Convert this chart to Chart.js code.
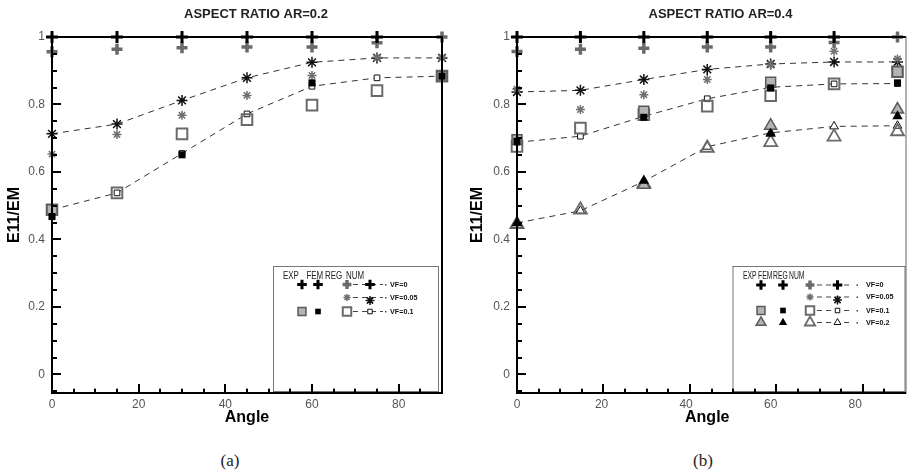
<!DOCTYPE html>
<html>
<head>
<meta charset="utf-8">
<title>E11/EM vs Angle</title>
<script src="https://cdn.jsdelivr.net/npm/chart.js@4.4.1/dist/chart.umd.min.js"></script>
<style>
  html, body { margin: 0; padding: 0; background: #fff; }
  .panel { position: absolute; top: 0; height: 432px; }
  #panelA { left: 0; width: 460px; }
  #panelB { left: 460px; width: 447px; }
  .axisbar { position: absolute; background: #000; pointer-events: none; }
  .caption { position: absolute; top: 452px; font: 17px "Liberation Serif", serif; color: #222; transform: translateX(-50%); line-height: 1; }
</style>
</head>
<body>
<div class="panel" id="panelA"><canvas id="chartA"></canvas></div>
<div class="panel" id="panelB"><canvas id="chartB"></canvas></div>
<div class="caption" style="left:230px">(a)</div>
<div class="caption" style="left:703px">(b)</div>
<script>
// fibre orientation angles and axis ticks
const angles = [0, 15, 30, 45, 60, 75, 90];
const xTicks = [0, 20, 40, 60, 80];
const yTicks = [0, 0.2, 0.4, 0.6, 0.8, 1];
const X_MIN = 0, X_MAX = 90, Y_MIN = -0.055, Y_MAX = 1;

// AR = 0.2
const a_vf0_exp = [1, 1, 1, 1, 1, 1, null];
const a_vf0_reg = [0.956, 0.964, 0.968, 0.970, 0.970, 0.983, 1.0];
const a_vf05_reg = [0.653, 0.711, 0.768, 0.827, 0.886, 0.940, 0.940];
const a_vf05_num = [0.713, 0.742, 0.812, 0.879, 0.925, 0.938, 0.938];
const a_vf1_exp = [0.488, null, null, null, null, null, 0.884];
const a_vf1_fem = [0.468, null, 0.651, null, 0.864, null, 0.884];
const a_vf1_reg = [0.488, 0.538, 0.713, 0.755, 0.798, 0.841, 0.884];
const a_vf1_num = [0.488, 0.538, 0.655, 0.772, 0.854, 0.879, 0.884];

// AR = 0.4
const b_vf0_exp = [1, 1, 1, 1, 1, 1, null];
const b_vf0_reg = [0.957, 0.964, 0.967, 0.970, 0.970, 0.984, 1.0];
const b_vf05_reg = [0.845, 0.785, 0.829, 0.874, 0.918, 0.958, 0.935];
const b_vf05_num = [0.837, 0.842, 0.874, 0.904, 0.920, 0.926, 0.926];
const b_vf1_exp = [0.696, null, 0.780, null, 0.866, null, 0.897];
const b_vf1_fem = [0.691, null, 0.762, null, 0.849, null, 0.864];
const b_vf1_reg = [0.676, 0.730, 0.770, 0.795, 0.826, 0.861, 0.897];
const b_vf1_num = [0.688, 0.706, 0.765, 0.817, 0.851, 0.861, 0.862];
const b_vf2_exp = [0.445, null, 0.562, null, 0.737, null, 0.785];
const b_vf2_fem = [0.449, null, 0.574, null, 0.713, null, 0.765];
const b_vf2_reg = [0.445, 0.488, 0.565, 0.671, 0.688, 0.704, 0.720];
const b_vf2_num = [0.449, 0.485, 0.572, 0.675, 0.716, 0.735, 0.737];

const NONE = 'rgba(0,0,0,0)';
const marks = {
  plusBlack: { pointStyle: 'cross', pointRadius: 6, pointBorderWidth: 3, pointBorderColor: '#000', pointBackgroundColor: NONE },
  plusGray:  { pointStyle: 'cross', pointRadius: 5.5, pointBorderWidth: 3.5, pointBorderColor: '#6a6a6a', pointBackgroundColor: NONE },
  starNum:   { pointStyle: 'star', pointRadius: 5.5, pointBorderWidth: 1.5, pointBorderColor: '#111', pointBackgroundColor: NONE },
  starReg:   { pointStyle: 'star', pointRadius: 4.5, pointBorderWidth: 1.5, pointBorderColor: '#707070', pointBackgroundColor: NONE },
  sqReg: { pointStyle: 'rect', pointRadius: 7.5, pointBorderWidth: 2, pointBorderColor: '#6a6a6a', pointBackgroundColor: NONE },
  sqExp: { pointStyle: 'rect', pointRadius: 7, pointBorderWidth: 1.5, pointBorderColor: '#5a5a5a', pointBackgroundColor: '#b4b4b4' },
  sqFem: { pointStyle: 'rect', pointRadius: 5, pointBorderWidth: 0, pointBorderColor: '#000', pointBackgroundColor: '#000' },
  sqNum: { pointStyle: 'rect', pointRadius: 4, pointBorderWidth: 1, pointBorderColor: '#111', pointBackgroundColor: '#fff' },
  triReg: { pointStyle: 'triangle', pointRadius: 7.5, pointBorderWidth: 1.8, pointBorderColor: '#6a6a6a', pointBackgroundColor: NONE },
  triExp: { pointStyle: 'triangle', pointRadius: 7, pointBorderWidth: 1.5, pointBorderColor: '#5a5a5a', pointBackgroundColor: '#b4b4b4' },
  triFem: { pointStyle: 'triangle', pointRadius: 6, pointBorderWidth: 0, pointBorderColor: '#000', pointBackgroundColor: '#000' },
  triNum: { pointStyle: 'triangle', pointRadius: 5, pointBorderWidth: 1, pointBorderColor: '#111', pointBackgroundColor: '#fff' }
};

function pts(vals) {
  return angles.map((a, i) => ({ x: a, y: vals[i] }));
}

function markSet(vals, mark, order) {
  return Object.assign({ data: pts(vals), showLine: false, clip: false, order: order, borderColor: NONE, backgroundColor: NONE }, mark);
}

// numerical curves: dashed line through small symbols
function numSet(vals, mark) {
  return Object.assign({
    data: pts(vals), showLine: true, clip: false, borderColor: '#333', backgroundColor: NONE,
    borderWidth: 1, borderDash: [6, 5], order: 5
  }, mark);
}

function drawMark(ctx, mark, x, y, k) {
  ctx.save();
  ctx.strokeStyle = mark.pointBorderColor;
  ctx.fillStyle = mark.pointBackgroundColor;
  ctx.lineWidth = Math.max(mark.pointBorderWidth, 0.01);
  Chart.helpers.drawPoint(ctx, {
    pointStyle: mark.pointStyle, radius: mark.pointRadius * k,
    borderWidth: mark.pointBorderWidth, rotation: 0
  }, x, y);
  ctx.restore();
}

function squeezedText(ctx, text, x, y, font, sx) {
  ctx.save();
  ctx.font = font;
  ctx.translate(x, y);
  ctx.scale(sx, 1);
  ctx.fillText(text, 0, 0);
  ctx.restore();
}

function drawLegendBox(ctx, lg) {
  const [l, t, r, b] = lg.box;
  ctx.save();
  ctx.fillStyle = '#fff';
  ctx.fillRect(l, t, r - l, b - t);
  ctx.fillStyle = '#777';
  ctx.fillRect(l - 0.5, t - 0.5, r - l + 1, 1);
  ctx.fillRect(l - 0.5, t - 0.5, 1, b - t + 1);
  ctx.fillRect(r - 0.5, t - 0.5, 1, b - t + 1);
  ctx.fillRect(l - 0.5, b - 0.5, r - l + 1, 1);
  ctx.restore();
}

function drawLegendRows(ctx, lg) {
  ctx.save();
  ctx.fillStyle = '#222';
  ctx.textBaseline = 'middle';
  ctx.textAlign = 'left';
  ['EXP', 'FEM', 'REG', 'NUM'].forEach((w, i) => {
    squeezedText(ctx, w, lg.header[i], lg.headerY, '11px "Liberation Sans", Arial, sans-serif', lg.squeeze);
  });

  lg.rows.forEach(row => {
    const y = row.y;
    ctx.save();
    ctx.strokeStyle = '#444';
    ctx.lineWidth = 1;
    ctx.setLineDash([5, 4]);
    ctx.beginPath();
    ctx.moveTo(lg.line[0], y);
    ctx.lineTo(lg.line[1], y);
    ctx.stroke();
    ctx.restore();
    ctx.fillStyle = '#444';
    ctx.fillRect(lg.dot, y - 0.5, 1.5, 1.5);
    ['exp', 'fem', 'reg', 'num'].forEach(c => {
      if (row[c]) drawMark(ctx, marks[row[c]], lg.cols[c], y + (row[c] === 'starNum' ? 3 : 0), 0.8);
    });
    ctx.fillStyle = '#111';
    squeezedText(ctx, row.label, lg.labelX, y, 'bold 8px "Liberation Sans", Arial, sans-serif', 0.9);
  });
  ctx.restore();
}

// plot box as set by the layout: y-axis width, x-axis height and paddings
function plotBox(cfg) {
  return {
    left: cfg.yWidth,
    right: cfg.width - cfg.rightPad,
    top: cfg.topPad,
    bottom: cfg.height - cfg.xHeight
  };
}

// tick marks pointing into the plot: minor every 5 deg and every 0.05
function tickBars(cfg) {
  const g = plotBox(cfg);
  const bars = [];
  const px = v => g.left + (v - X_MIN) / (X_MAX - X_MIN) * (g.right - g.left);
  const py = v => g.bottom - (v - Y_MIN) / (Y_MAX - Y_MIN) * (g.bottom - g.top);
  for (let v = 5; v < X_MAX; v += 5) {
    const len = xTicks.includes(v) ? 9 : 4.5;
    bars.push([Math.round(px(v)) - 0.75, g.bottom - len, 1.5, len]);
  }
  for (let k = -1; k <= 20; k++) {
    const v = Math.round(k * 5) / 100;
    const len = yTicks.includes(v) ? 9 : 4.5;
    bars.push([g.left, Math.round(py(v)) - 0.75, len, 1.5]);
  }
  // left and bottom axis lines
  bars.push([g.left - 1, g.top - 1, 2, g.bottom - g.top + 2]);
  bars.push([g.left - 1, g.bottom - 1, g.right - g.left + 1, 2]);
  return bars;
}

function drawFrame(ctx, cfg) {
  const g = plotBox(cfg);
  ctx.save();
  ctx.fillStyle = '#000';
  tickBars(cfg).forEach(b => ctx.fillRect(b[0], b[1], b[2], b[3]));
  ctx.fillRect(g.left - 1, g.top - 1, g.right - g.left + 1, 2);
  ctx.fillStyle = cfg.rightColor;
  ctx.fillRect(g.right - cfg.rightWidth / 2, g.top - 1, cfg.rightWidth, g.bottom - g.top + 2);
  ctx.restore();
}

// the same axis lines and ticks as thin blocks laid over the canvas
function axisOverlay(panelId, cfg) {
  const panel = document.getElementById(panelId);
  tickBars(cfg).forEach(b => {
    const d = document.createElement('div');
    d.className = 'axisbar';
    d.style.left = b[0] + 'px';
    d.style.top = b[1] + 'px';
    d.style.width = b[2] + 'px';
    d.style.height = b[3] + 'px';
    panel.appendChild(d);
  });
}

function framePlugin(cfg) {
  return {
    id: 'frame',
    afterDatasetsDraw(chart) {
      drawLegendBox(chart.ctx, cfg.legend);
      drawFrame(chart.ctx, cfg);
    },
    afterDraw(chart) {
      const ctx = chart.ctx;
      const g = plotBox(cfg);
      drawLegendRows(ctx, cfg.legend);
      ctx.save();
      ctx.fillStyle = '#222';
      ctx.font = 'bold 13px "Liberation Sans", Arial, sans-serif';
      ctx.textAlign = 'center';
      ctx.textBaseline = 'middle';
      ctx.fillText(cfg.title, (g.left + g.right) / 2 + 9, 14);
      ctx.restore();
    }
  };
}

function tickText(v) {
  return String(Math.round(v * 10) / 10);
}

function makeChart(id, panelId, datasets, cfg) {
  const chart = new Chart(document.getElementById(id), {
    type: 'scatter',
    data: { datasets: datasets },
    options: {
      responsive: true,
      maintainAspectRatio: false,
      animation: false,
      events: [],
      layout: { padding: { top: cfg.topPad, right: cfg.rightPad, left: 0, bottom: 0 } },
      plugins: {
        legend: { display: false },
        tooltip: { enabled: false }
      },
      scales: {
        x: {
          type: 'linear', min: X_MIN, max: X_MAX,
          grid: { display: false, drawTicks: false },
          border: { display: false },
          afterBuildTicks: s => { s.ticks = xTicks.map(v => ({ value: v })); },
          afterFit: s => { s.height = cfg.xHeight; },
          ticks: { padding: 4, color: '#555', font: { size: 12 }, callback: tickText },
          title: { display: true, text: 'Angle', color: '#000', font: { size: 16, weight: 'bold' }, padding: { top: 0, bottom: 5 } }
        },
        y: {
          type: 'linear', min: Y_MIN, max: Y_MAX,
          grid: { display: false, drawTicks: false },
          border: { display: false },
          afterBuildTicks: s => { s.ticks = yTicks.map(v => ({ value: v })); },
          afterFit: s => { s.width = cfg.yWidth; },
          ticks: { padding: 7, color: '#555', font: { size: 12 }, callback: tickText },
          title: { display: true, text: 'E11/EM', color: '#000', font: { size: 16, weight: 'bold' }, padding: { top: cfg.yTitlePad, bottom: 0 } }
        }
      }
    },
    plugins: [framePlugin(cfg)]
  });
  axisOverlay(panelId, cfg);
  return chart;
}

Chart.defaults.font.family = '"Liberation Sans", Arial, sans-serif';

makeChart('chartA', 'panelA', [
  markSet(a_vf0_reg, marks.plusGray, 3),
  markSet(a_vf0_exp, marks.plusBlack, 1),
  markSet(a_vf05_reg, marks.starReg, 3),
  numSet(a_vf05_num, marks.starNum),
  numSet(a_vf1_num, marks.sqNum),
  markSet(a_vf1_reg, marks.sqReg, 4),
  markSet(a_vf1_exp, marks.sqExp, 2),
  markSet(a_vf1_fem, marks.sqFem, 1)
], {
  title: 'ASPECT RATIO AR=0.2',
  width: 460, height: 432, topPad: 37, xHeight: 39,
  yWidth: 52, yTitlePad: 5.4, rightPad: 18, rightColor: '#000', rightWidth: 2,
  legend: {
    box: [273.5, 266.5, 438.5, 391.5],
    headerY: 276, header: [283, 306.5, 325, 346], squeeze: 0.72,
    cols: { exp: 302, fem: 318, reg: 347, num: 370 },
    line: [353, 383], dot: 385, labelX: 390,
    rows: [
      { y: 284.5, exp: 'plusBlack', fem: 'plusBlack', reg: 'plusGray', num: 'plusBlack', label: 'VF=0' },
      { y: 297.5, reg: 'starReg', num: 'starNum', label: 'VF=0.05' },
      { y: 311.5, exp: 'sqExp', fem: 'sqFem', reg: 'sqReg', num: 'sqNum', label: 'VF=0.1' }
    ]
  }
});

makeChart('chartB', 'panelB', [
  markSet(b_vf0_reg, marks.plusGray, 3),
  markSet(b_vf0_exp, marks.plusBlack, 1),
  markSet(b_vf05_reg, marks.starReg, 3),
  numSet(b_vf05_num, marks.starNum),
  numSet(b_vf1_num, marks.sqNum),
  markSet(b_vf1_reg, marks.sqReg, 4),
  markSet(b_vf1_exp, marks.sqExp, 2),
  markSet(b_vf1_fem, marks.sqFem, 1),
  numSet(b_vf2_num, marks.triNum),
  markSet(b_vf2_reg, marks.triReg, 4),
  markSet(b_vf2_exp, marks.triExp, 2),
  markSet(b_vf2_fem, marks.triFem, 1)
], {
  title: 'ASPECT RATIO AR=0.4',
  width: 447, height: 432, topPad: 37, xHeight: 39,
  yWidth: 57, yTitlePad: 8.4, rightPad: 1, rightColor: '#666', rightWidth: 1,
  legend: {
    box: [273, 266.5, 445, 391.5],
    headerY: 276, header: [283, 298, 313, 329], squeeze: 0.62,
    cols: { exp: 301, fem: 323, reg: 350, num: 377.5 },
    line: [357, 393], dot: 396.5, labelX: 406,
    rows: [
      { y: 285, exp: 'plusBlack', fem: 'plusBlack', reg: 'plusGray', num: 'plusBlack', label: 'VF=0' },
      { y: 297, reg: 'starReg', num: 'starNum', label: 'VF=0.05' },
      { y: 310.5, exp: 'sqExp', fem: 'sqFem', reg: 'sqReg', num: 'sqNum', label: 'VF=0.1' },
      { y: 322.5, exp: 'triExp', fem: 'triFem', reg: 'triReg', num: 'triNum', label: 'VF=0.2' }
    ]
  }
});
</script>
</body>
</html>
